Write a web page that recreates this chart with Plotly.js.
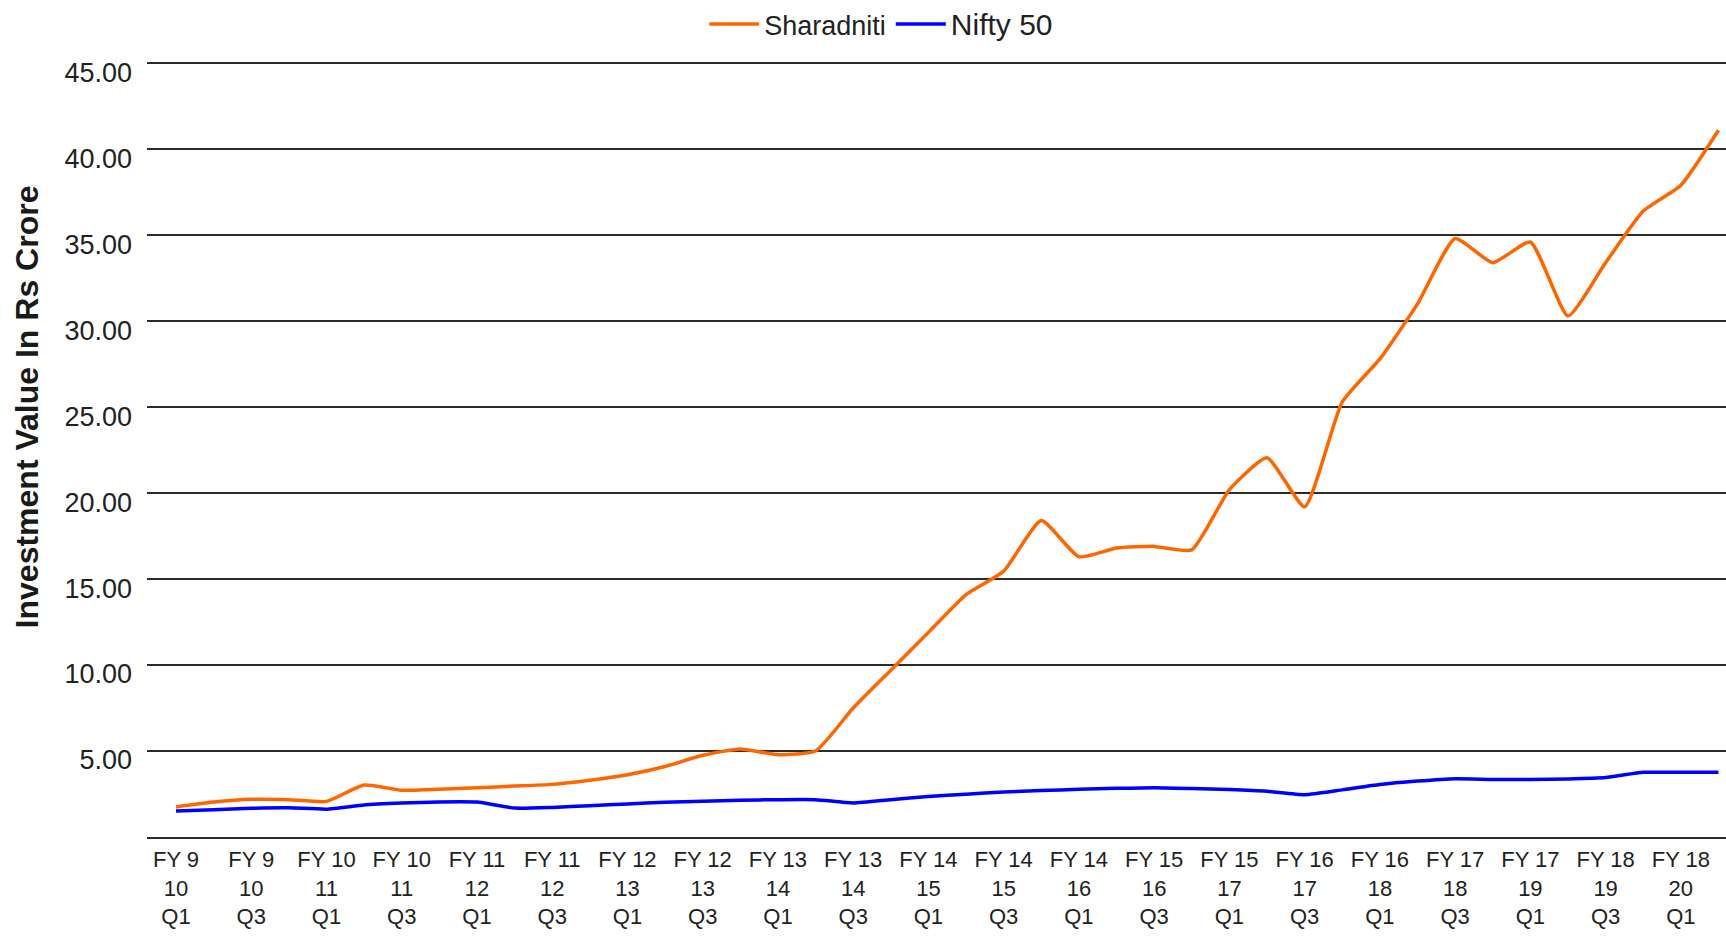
<!DOCTYPE html>
<html>
<head>
<meta charset="utf-8">
<script src="https://cdn.plot.ly/plotly-3.0.1.min.js"></script>
<style>
  html, body { margin: 0; padding: 0; background: #ffffff; }
  #chart { width: 1726px; height: 936px; }
</style>
</head>
<body>
<div id="chart"></div>
<script>
// Quarterly investment values (Rs Crore), 42 quarters
const sharadniti = [
  1.75, 2.03, 2.19, 2.17, 2.07, 3.02, 2.72, 2.78, 2.87, 2.96,
  3.06, 3.30, 3.62, 4.10, 4.75, 5.12, 4.78, 5.00, 7.50, 9.70,
  11.90, 14.10, 15.46, 18.40, 16.30, 16.80, 16.90, 16.70, 20.20, 22.05,
  19.20, 25.30, 27.80, 31.00, 34.80, 33.40, 34.60, 30.30, 33.40, 36.40,
  37.90, 41.10
];
const nifty50 = [
  1.51, 1.58, 1.67, 1.70, 1.62, 1.86, 1.97, 2.04, 2.03, 1.68,
  1.72, 1.82, 1.92, 2.02, 2.08, 2.14, 2.17, 2.17, 1.98, 2.17,
  2.35, 2.49, 2.62, 2.70, 2.77, 2.83, 2.87, 2.82, 2.76, 2.66,
  2.46, 2.74, 3.05, 3.25, 3.39, 3.35, 3.35, 3.38, 3.46, 3.76,
  3.76, 3.76
];
// Labels shown on every second quarter
const tickLabels = [
  "FY 9<br>10<br>Q1", "FY 9<br>10<br>Q3", "FY 10<br>11<br>Q1", "FY 10<br>11<br>Q3",
  "FY 11<br>12<br>Q1", "FY 11<br>12<br>Q3", "FY 12<br>13<br>Q1", "FY 12<br>13<br>Q3",
  "FY 13<br>14<br>Q1", "FY 13<br>14<br>Q3", "FY 14<br>15<br>Q1", "FY 14<br>15<br>Q3",
  "FY 14<br>16<br>Q1", "FY 15<br>16<br>Q3", "FY 15<br>17<br>Q1", "FY 16<br>17<br>Q3",
  "FY 16<br>18<br>Q1", "FY 17<br>18<br>Q3", "FY 17<br>19<br>Q1", "FY 18<br>19<br>Q3",
  "FY 18<br>20<br>Q1"
];
const yTicks = [5, 10, 15, 20, 25, 30, 35, 40, 45];

const quarterIdx = sharadniti.map((_, i) => i);
const tickIdx = tickLabels.map((_, i) => i * 2);

const FONT = "Liberation Sans, Arial, Helvetica, sans-serif";

const traces = [
  {
    x: quarterIdx, y: sharadniti, name: "Sharadniti", type: "scatter", mode: "lines",
    line: { color: "#FF6600", width: 3.5, shape: "spline", smoothing: 0.5 }
  },
  {
    x: quarterIdx, y: nifty50, name: '<span style="font-size:30px">Nifty 50</span>',
    type: "scatter", mode: "lines",
    line: { color: "#0000FF", width: 3.5, shape: "spline", smoothing: 0.5 }
  }
];

const layout = {
  width: 1726, height: 936,
  margin: { l: 147, r: 0, t: 58, b: 99, pad: 0 },
  paper_bgcolor: "#ffffff", plot_bgcolor: "rgba(0,0,0,0)",
  font: { family: FONT, color: "#222222" },
  showlegend: true,
  legend: {
    orientation: "h", xref: "container", yref: "container",
    x: 0.408, y: 1, xanchor: "left", yanchor: "top",
    font: { size: 27, color: "#222222" }, itemwidth: 50,
    bgcolor: "rgba(0,0,0,0)", traceorder: "normal"
  },
  xaxis: {
    range: [-0.771, 41.2], tickmode: "array", tickvals: tickIdx, ticktext: tickLabels,
    showgrid: false, zeroline: false, showline: true, linecolor: "#2b2b2b", linewidth: 1.5,
    ticks: "", tickfont: { size: 22, color: "#222222" }, tickangle: 0,
    ticklabelstandoff: 2, fixedrange: true
  },
  yaxis: {
    range: [0, 45.3], tickmode: "array", tickvals: yTicks, tickformat: ".2f",
    showgrid: true, gridcolor: "#2b2b2b", gridwidth: 1.5, zeroline: false, showline: false,
    ticks: "", tickfont: { size: 27, color: "#222222" }, ticklabelshift: 9,
    ticklabelstandoff: 14, fixedrange: true
  },
  annotations: [
    {
      text: "<b>Investment Value In Rs Crore</b>", textangle: -90,
      xref: "paper", yref: "paper", x: -0.0754, y: 0.5527,
      xanchor: "center", yanchor: "middle", showarrow: false,
      font: { size: 32, color: "#1a1a1a", family: FONT }
    }
  ]
};

Plotly.newPlot("chart", traces, layout, { displayModeBar: false, staticPlot: true });
</script>
</body>
</html>
